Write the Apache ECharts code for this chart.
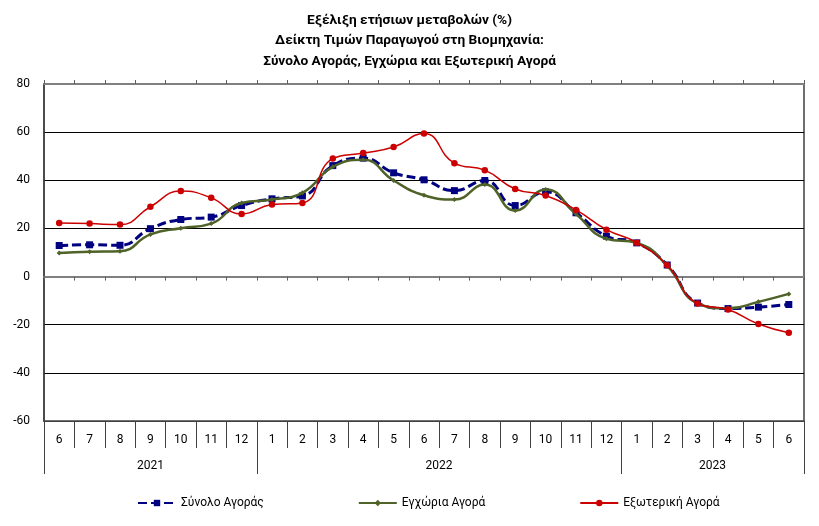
<!DOCTYPE html>
<html><head><meta charset="utf-8">
<script src="https://cdn.jsdelivr.net/npm/echarts@6/dist/echarts.min.js"></script>
<style>html,body{margin:0;padding:0;background:#fff}#c{width:819px;height:526px}</style>
</head><body><div id="c"></div>
<script>
const months = ['6','7','8','9','10','11','12','1','2','3','4','5','6','7','8','9','10','11','12','1','2','3','4','5','6'];
const years = ['2021','2022','2023'];
const yearMonths = [7, 12, 6];
const yTicks = { min: -60, max: 80, interval: 20 };
const seriesNames = ['Σύνολο Αγοράς', 'Εγχώρια Αγορά', 'Εξωτερική Αγορά'];
const total = [12.9, 13.2, 13.0, 19.9, 23.7, 24.7, 29.5, 32.3, 33.5, 46.1, 49.2, 43.1, 40.2, 35.7, 39.9, 29.5, 35.2, 26.5, 16.8, 14.0, 4.8, -11.0, -13.3, -12.7, -11.6];
const domestic = [9.8, 10.3, 10.5, 17.5, 20.1, 22.0, 30.6, 32.0, 34.8, 45.6, 48.5, 39.9, 33.8, 32.0, 38.2, 27.4, 36.2, 26.0, 15.7, 14.0, 4.5, -11.1, -13.2, -10.5, -7.2];
const foreign = [22.3, 22.0, 21.6, 29.0, 35.5, 32.7, 26.0, 29.9, 30.6, 49.0, 51.3, 53.8, 59.4, 47.1, 44.2, 36.4, 33.7, 27.7, 19.5, 14.1, 4.7, -11.2, -13.7, -19.7, -23.3];
const titleLines = ['Εξέλιξη ετήσιων μεταβολών (%)', 'Δείκτη Τιμών Παραγωγού στη Βιομηχανία:', 'Σύνολο Αγοράς, Εγχώρια και Εξωτερική Αγορά'];

// build year axis helpers
const yearAxisData = [];
const yearStarts = [];
const yearLabelIdx = {};
let s = 0;
years.forEach((y, k) => {
  yearStarts.push(s);
  const n = yearMonths[k];
  const c = s + Math.floor((n - 1) / 2);
  yearLabelIdx[c] = (n % 2 === 0) ? '{b|' + y + '}' : '{a|' + y + '}';
  for (let i = 0; i < n; i++) yearAxisData.push(y);
  s += n;
});

const FONT = 'Roboto';
const chart = echarts.init(document.getElementById('c'), null, { renderer: 'canvas' });
chart.setOption({
  animation: false,
  backgroundColor: '#fff',
  textStyle: { fontFamily: FONT },
  title: {
    text: titleLines.join('\n'),
    left: 'center', top: 5,
    textStyle: { fontFamily: FONT, fontSize: 13.7, fontWeight: 'bold', color: '#000', lineHeight: 20.5 }
  },
  legend: {
    bottom: 12, left: 132,
    itemWidth: 38, itemHeight: 8, itemGap: 94,
    textStyle: { fontFamily: FONT, fontSize: 12, color: '#000' },
    data: seriesNames
  },
  grid: { left: 44, right: 15, top: 84, bottom: 105, show: true, borderColor: '#404040', borderWidth: 1.5 },
  xAxis: [
    { type: 'category', data: months, position: 'bottom',
      axisLine: { onZero: true, lineStyle: { color: '#808080', width: 2 } },
      axisTick: { show: true, interval: 0, length: 4, lineStyle: { color: '#606060' } },
      axisLabel: { show: false }, splitLine: { show: false } },
    { type: 'category', data: months, position: 'top',
      axisLine: { onZero: true, lineStyle: { color: '#808080', width: 2 } },
      axisTick: { show: true, interval: 0, length: 4, lineStyle: { color: '#606060' } },
      axisLabel: { show: false }, splitLine: { show: false } },
    { type: 'category', data: months, position: 'bottom', offset: 0,
      axisLine: { onZero: false, show: true, lineStyle: { color: '#404040', width: 1 } },
      axisTick: { show: true, interval: 0, length: 27, lineStyle: { color: '#404040' } },
      axisLabel: { show: true, interval: 0, margin: 13, fontFamily: FONT, fontSize: 12, color: '#000' },
      splitLine: { show: false } },
    { type: 'category', data: yearAxisData, position: 'bottom', offset: 0,
      axisLine: { onZero: false, show: false },
      axisTick: { show: true, length: 53, interval: (i) => yearStarts.indexOf(i) >= 0, lineStyle: { color: '#404040' } },
      axisLabel: { show: true, margin: 39, interval: (i) => yearLabelIdx[i] !== undefined,
        formatter: (v, i) => yearLabelIdx[i] || '',
        rich: { a: { fontFamily: FONT, fontSize: 12, color: '#000' },
                b: { fontFamily: FONT, fontSize: 12, color: '#000', padding: [0, 0, 0, 30] } } },
      splitLine: { show: false } }
  ],
  yAxis: {
    type: 'value', min: yTicks.min, max: yTicks.max, interval: yTicks.interval,
    axisLine: { show: true, lineStyle: { color: '#404040', width: 1.5 } },
    axisTick: { show: false },
    axisLabel: { fontFamily: FONT, fontSize: 12, color: '#000', margin: 14 },
    splitLine: { show: true, lineStyle: { color: '#000', width: 1 } }
  },
  series: [
    { name: seriesNames[0], type: 'line', data: total, smooth: true, xAxisIndex: 2,
      symbol: 'rect', symbolSize: 7, z: 3,
      lineStyle: { color: '#000080', width: 3, type: [9, 4] },
      itemStyle: { color: '#000080' } },
    { name: seriesNames[1], type: 'line', data: domestic, smooth: true, xAxisIndex: 2,
      symbol: 'diamond', symbolSize: 5, z: 4,
      lineStyle: { color: '#4F6228', width: 2.5 },
      itemStyle: { color: '#4F6228' } },
    { name: seriesNames[2], type: 'line', data: foreign, smooth: true, xAxisIndex: 2,
      symbol: 'circle', symbolSize: 6.5, z: 5,
      lineStyle: { color: '#CC0000', width: 1.5 },
      itemStyle: { color: '#CC0000' } }
  ]
});
</script></body></html>
